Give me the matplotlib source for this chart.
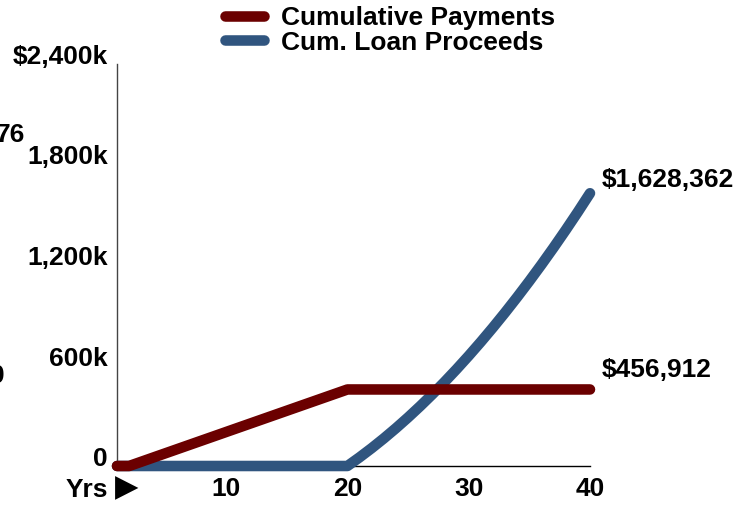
import matplotlib
matplotlib.use("Agg")
import matplotlib.pyplot as plt
from matplotlib.lines import Line2D

plt.rcParams['font.family'] = ['Liberation Sans', 'DejaVu Sans']
plt.rcParams['font.weight'] = 'bold'

# Years on the horizontal axis
years = list(range(1, 41))

# Cumulative payments (USD): nothing paid in years 1-2, level payments through year 20
payments = [0, 0, 25384, 50768, 76152, 101536, 126920, 152304, 177688, 203072,
            228456, 253840, 279224, 304608, 329992, 355376, 380760, 406144, 431528, 456912,
            456912, 456912, 456912, 456912, 456912, 456912, 456912, 456912, 456912, 456912,
            456912, 456912, 456912, 456912, 456912, 456912, 456912, 456912, 456912, 456912]

# Cumulative loan proceeds (USD): draws begin after year 20
proceeds = [0] * 20 + [51760, 106640, 164640, 225760, 290000, 357360, 427840, 501440,
                       578160, 658000, 740960, 827040, 916240, 1008560, 1104000, 1202560,
                       1304240, 1409040, 1516960, 1628362]

x_ticks = [10, 20, 30, 40]
x_tick_labels = ['10', '20', '30', '40']
y_ticks = [0, 600000, 1200000, 1800000, 2400000]
y_tick_labels = ['0', '600k', '1,200k', '1,800k', '$2,400k']

series_names = ['Cumulative Payments', 'Cum. Loan Proceeds']
red = '#6b0000'
blue = '#30557f'
colors = [red, blue]
fs = 19
W, H = 754, 505

fig = plt.figure(figsize=(W / 100, H / 100), dpi=100)
ax = fig.add_axes([117 / W, 39 / H, 473 / W, 402 / H])

ax.plot(years, proceeds, color=blue, lw=7.6, solid_capstyle='round',
        solid_joinstyle='round', clip_on=False, zorder=3)
ax.plot(years, payments, color=red, lw=7.6, solid_capstyle='round',
        solid_joinstyle='round', clip_on=False, zorder=4)

ax.set_xlim(1, 40)
ax.set_ylim(0, 2400000)

for s in ['top', 'right']:
    ax.spines[s].set_visible(False)
ax.spines['left'].set_color('#444444')
ax.spines['left'].set_linewidth(1.0)
ax.spines['bottom'].set_color('black')
ax.spines['bottom'].set_linewidth(1.0)

ax.set_xticks(x_ticks)
ax.set_xticklabels(x_tick_labels, fontsize=fs, fontweight='bold')
ax.set_yticks(y_ticks)
ax.set_yticklabels(y_tick_labels, fontsize=fs, fontweight='bold')
ax.tick_params(axis='both', length=0)
ax.tick_params(axis='x', pad=8)
ax.tick_params(axis='y', pad=6.5)
for lab in ax.get_yticklabels():
    lab.set_verticalalignment('baseline')

# End-of-series value labels
ax.annotate(f'${proceeds[-1]:,}', xy=(years[-1], proceeds[-1]), xytext=(12, 1),
            textcoords='offset pixels', fontsize=fs, fontweight='bold',
            ha='left', va='bottom', annotation_clip=False)
ax.annotate(f'${payments[-1]:,}', xy=(years[-1], payments[-1]), xytext=(12, 7),
            textcoords='offset pixels', fontsize=fs, fontweight='bold',
            ha='left', va='bottom', annotation_clip=False)

# Axis caption for years, with a pointer glyph
fig.text(66 / W, 1 - 497 / H, 'Yrs', fontsize=fs, fontweight='bold',
         ha='left', va='baseline')
fig.text(115 / W, 1 - 485 / H, '\u25B6', fontsize=22, family='DejaVu Sans',
         ha='left', va='center_baseline')

# Fragments of labels running off the left edge
fig.text(25 / W, 1 - 142 / H, '76', fontsize=fs, fontweight='bold',
         ha='right', va='baseline')
fig.text(5 / W, 1 - 383 / H, '0', fontsize=fs, fontweight='bold',
         ha='right', va='baseline')

# Legend: thick rounded swatches followed by series names
for i, (name, c) in enumerate(zip(series_names, colors)):
    yc = 1 - (16 + 24 * i) / H
    fig.add_artist(Line2D([225 / W, 264 / W], [yc, yc], color=c, lw=7.6,
                          solid_capstyle='round', transform=fig.transFigure))
    fig.text(281 / W, yc, name, fontsize=fs, fontweight='bold',
             ha='left', va='center_baseline')

fig.savefig('out.png', dpi=100)
